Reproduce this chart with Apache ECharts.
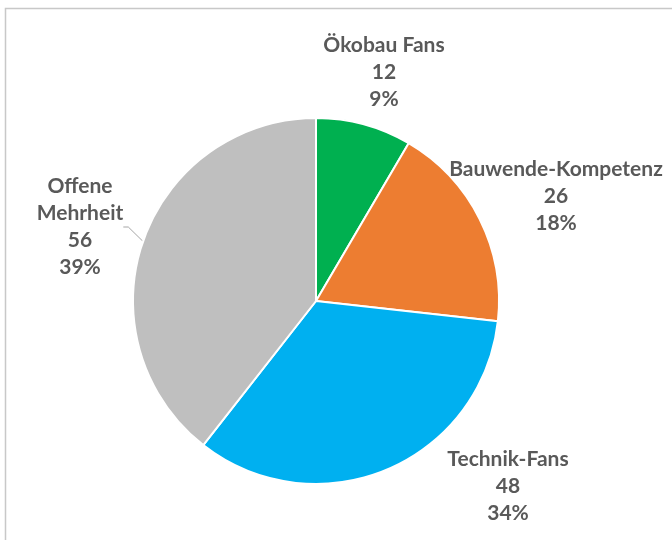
<!DOCTYPE html>
<html><head><meta charset="utf-8">
<script src="https://cdn.jsdelivr.net/npm/echarts@6/dist/echarts.min.js"></script>
<style>html,body{margin:0;padding:0;background:#fff}#c{width:672px;height:540px}</style>
</head><body><div id="c"></div>
<script>
const categories = ['Ökobau Fans', 'Bauwende-Kompetenz', 'Technik-Fans', 'Offene Mehrheit'];
const values = [12, 26, 48, 56];
const percentLabels = ['9%', '18%', '34%', '39%'];
const nameLabels = ['Ökobau Fans', 'Bauwende-Kompetenz', 'Technik-Fans', 'Offene\nMehrheit'];
const colors = ['#00B050', '#ED7D31', '#00B0F0', '#BFBFBF'];

const labelPos = [[384, 72], [556, 196], [508, 486], [80, 227]];

const chart = echarts.init(document.getElementById('c'), null, {renderer: 'canvas'});
chart.setOption({
  animation: false,
  backgroundColor: '#fff',
  graphic: [{
    type: 'rect', shape: {x: 5.5, y: 8.5, width: 700, height: 600},
    style: {fill: 'none', stroke: '#c8c8c8', lineWidth: 1.5}, silent: true
  }],
  series: [{
    type: 'pie',
    center: [316, 301],
    radius: 183,
    startAngle: 90,
    clockwise: true,
    data: categories.map((c, i) => ({
      name: c, value: values[i],
      itemStyle: {color: colors[i]},
      labelLine: {show: i === 3, lineStyle: {color: '#a6a6a6', width: 1}}
    })),
    itemStyle: {borderColor: '#fff', borderWidth: 2},
    label: {
      show: true,
      position: 'outside',
      formatter: p => nameLabels[p.dataIndex] + '\n' + values[p.dataIndex] + '\n' + percentLabels[p.dataIndex],
      fontFamily: 'Lato',
      fontWeight: 'bold',
      fontSize: 21,
      lineHeight: 27,
      color: '#595959',
      align: 'center',
      overflow: 'none'
    },
    labelLine: {length: 5, length2: 5},
    labelLayout: p => ({x: labelPos[p.dataIndex][0], y: labelPos[p.dataIndex][1], align: 'center', verticalAlign: 'middle'})
  }]
});
</script></body></html>
